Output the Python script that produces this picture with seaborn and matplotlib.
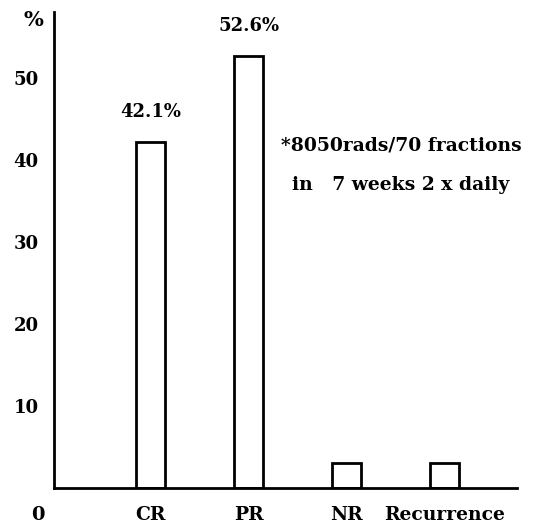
import matplotlib
matplotlib.use("Agg")
import matplotlib.pyplot as plt
import pandas as pd
import seaborn as sns

# 数据
categories = ["CR", "PR", "NR", "Recurrence"]
percent = [42.1, 52.6, 3.0, 3.0]
bar_labels = ["42.1%", "52.6%", "", ""]
y_ticks = [10, 20, 30, 40, 50]
note_lines = ["*8050rads/70 fractions", "in   7 weeks 2 x daily"]

sns.set_style("white")
plt.rcParams["font.family"] = ["DejaVu Serif", "Liberation Serif"]
plt.rcParams["font.weight"] = "bold"
plt.rcParams["text.color"] = "black"
plt.rcParams["xtick.color"] = "black"
plt.rcParams["ytick.color"] = "black"

df = pd.DataFrame({"group": categories, "pct": percent})

fig = plt.figure(figsize=(5.38, 5.29), dpi=100)
ax = fig.add_axes([0.1004, 0.0775, 0.861, 0.9])

sns.barplot(data=df, x="group", y="pct", color="white", edgecolor="black",
            linewidth=2, width=0.3, ax=ax)

ax.set_xlim(-0.985, 3.74)
ax.set_ylim(0, 58)
ax.set_yticks(y_ticks)
ax.set_yticklabels([str(t) for t in y_ticks], fontsize=13, fontweight="bold")
ax.tick_params(axis="y", direction="out", length=10, width=2, pad=1)
ax.tick_params(axis="x", length=0, pad=13, labelsize=13.5)
for lab in ax.get_xticklabels():
    lab.set_fontweight("bold")
ax.set_xlabel("")
ax.set_ylabel("")

for side in ["top", "right"]:
    ax.spines[side].set_visible(False)
for side in ["left", "bottom"]:
    ax.spines[side].set_linewidth(2)
    ax.spines[side].set_color("black")

# 柱顶标签
for i, txt in enumerate(bar_labels):
    if txt:
        ax.text(i, percent[i] + 2.6, txt, ha="center", va="bottom",
                fontsize=13, fontweight="bold")

# 注释
ax.text(0.749, 0.72, note_lines[0], transform=ax.transAxes, ha="center",
        va="center", fontsize=13.5, fontweight="bold")
ax.text(0.749, 0.637, note_lines[1], transform=ax.transAxes, ha="center",
        va="center", fontsize=13.5, fontweight="bold")

# 原点与单位
fig.text(0.07, 0.027, "0", ha="center", va="center", fontsize=14, fontweight="bold")
fig.text(0.062, 0.963, "%", ha="center", va="center", fontsize=15, fontweight="bold")

fig.savefig("out.png", dpi=100)
